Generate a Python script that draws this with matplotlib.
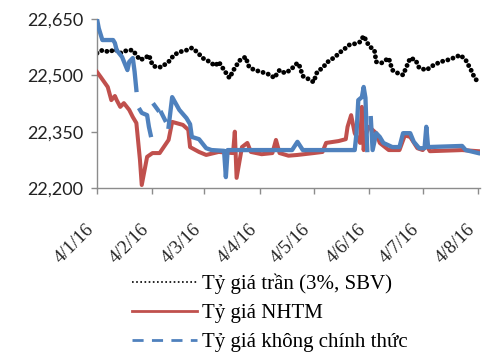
import matplotlib
matplotlib.use("Agg")
import matplotlib.pyplot as plt
from matplotlib.lines import Line2D
import matplotlib.transforms as mtransforms
import numpy as np
import pandas as pd

# Tỷ giá trần (3%, SBV)
tran_ngay = ["2016-01-04", "2016-01-07", "2016-01-11", "2016-01-14", "2016-01-17", "2016-01-21",
             "2016-01-24", "2016-01-26", "2016-01-28", "2016-01-31", "2016-02-02", "2016-02-04",
             "2016-02-06", "2016-02-09", "2016-02-13", "2016-02-16", "2016-02-19", "2016-02-23",
             "2016-02-26", "2016-02-29", "2016-03-03", "2016-03-07", "2016-03-10", "2016-03-12",
             "2016-03-15", "2016-03-18", "2016-03-21", "2016-03-24", "2016-03-27", "2016-03-29",
             "2016-04-01", "2016-04-05", "2016-04-10", "2016-04-12", "2016-04-15", "2016-04-18",
             "2016-04-21", "2016-04-25", "2016-04-26", "2016-04-28", "2016-05-02", "2016-05-04",
             "2016-05-06", "2016-05-09", "2016-05-12", "2016-05-16", "2016-05-19", "2016-05-22",
             "2016-05-24", "2016-05-27", "2016-05-30", "2016-06-01", "2016-06-04", "2016-06-07",
             "2016-06-08", "2016-06-11", "2016-06-15", "2016-06-17", "2016-06-20", "2016-06-23",
             "2016-06-27", "2016-06-30", "2016-07-02", "2016-07-06", "2016-07-10", "2016-07-14",
             "2016-07-18", "2016-07-21", "2016-07-25", "2016-07-28", "2016-07-31", "2016-08-02",
             "2016-08-04"]
tran_gia = [22559, 22567, 22562, 22570, 22559, 22567,
            22567, 22554, 22541, 22546, 22554, 22527,
            22522, 22522, 22536, 22554, 22562, 22567,
            22573, 22562, 22546, 22536, 22525, 22536,
            22514, 22493, 22520, 22541, 22549, 22522,
            22514, 22509, 22501, 22493, 22514, 22506,
            22514, 22533, 22527, 22498, 22488, 22482,
            22509, 22520, 22536, 22549, 22562, 22573,
            22581, 22584, 22589, 22605, 22578, 22567,
            22536, 22533, 22546, 22514, 22506, 22501,
            22546, 22541, 22520, 22514, 22527, 22536,
            22541, 22546, 22554, 22541, 22514, 22493,
            22482]

# Tỷ giá NHTM
nhtm_ngay = ["2016-01-04", "2016-01-06", "2016-01-10", "2016-01-12", "2016-01-14", "2016-01-15",
             "2016-01-17", "2016-01-19", "2016-01-22", "2016-01-24", "2016-01-26", "2016-01-28",
             "2016-01-29", "2016-02-01", "2016-02-04", "2016-02-08", "2016-02-13", "2016-02-15",
             "2016-02-21", "2016-02-24", "2016-02-25", "2016-03-01", "2016-03-05", "2016-03-12",
             "2016-03-20", "2016-03-21", "2016-03-22", "2016-03-25", "2016-03-28", "2016-03-30",
             "2016-04-05", "2016-04-11", "2016-04-13", "2016-04-15", "2016-04-20", "2016-04-25",
             "2016-05-04", "2016-05-09", "2016-05-11", "2016-05-18", "2016-05-22", "2016-05-23",
             "2016-05-25", "2016-05-27", "2016-05-30", "2016-05-31", "2016-06-01", "2016-06-02",
             "2016-06-04", "2016-06-08", "2016-06-10", "2016-06-15", "2016-06-21", "2016-06-24",
             "2016-06-27", "2016-07-01", "2016-07-04", "2016-07-06", "2016-07-08", "2016-07-26",
             "2016-08-04"]
nhtm_gia = [22509, 22496, 22469, 22434, 22445, 22434,
            22416, 22426, 22408, 22389, 22373, 22275,
            22208, 22283, 22293, 22293, 22328, 22376,
            22368, 22355, 22309, 22296, 22288, 22296,
            22293, 22350, 22227, 22309, 22320, 22296,
            22290, 22293, 22328, 22293, 22286, 22288,
            22293, 22296, 22320, 22325, 22330, 22363,
            22394, 22346, 22320, 22416, 22301, 22340,
            22363, 22346, 22320, 22301, 22301, 22340,
            22336, 22306, 22301, 22314, 22298, 22301,
            22298]

# Tỷ giá không chính thức (NaN = không có số liệu)
ktc_ngay = ["2016-01-04", "2016-01-05", "2016-01-07", "2016-01-13", "2016-01-14", "2016-01-15",
            "2016-01-18", "2016-01-21", "2016-01-22", "2016-01-24", "2016-01-25", "2016-01-26",
            "2016-01-27",
            "2016-01-28", "2016-01-29", "2016-02-01", "2016-02-02", "2016-02-03",
            "2016-02-04",
            "2016-02-05", "2016-02-07",
            "2016-02-08",
            "2016-02-09", "2016-02-11",
            "2016-02-12",
            "2016-02-13", "2016-02-15", "2016-02-19", "2016-02-23", "2016-02-25", "2016-02-26",
            "2016-03-01", "2016-03-05", "2016-03-08", "2016-03-15", "2016-03-16", "2016-03-17",
            "2016-04-22", "2016-04-25", "2016-04-28", "2016-05-27", "2016-05-28", "2016-05-29",
            "2016-05-31", "2016-06-01", "2016-06-02", "2016-06-03",
            "2016-06-04",
            "2016-06-05", "2016-06-06", "2016-06-08", "2016-06-10", "2016-06-12", "2016-06-17",
            "2016-06-21", "2016-06-23", "2016-06-27", "2016-06-29", "2016-07-02", "2016-07-05",
            "2016-07-06", "2016-07-07", "2016-07-26", "2016-07-28", "2016-08-04"]
ktc_gia = [22650, 22625, 22594, 22594, 22586, 22567,
           22549, 22514, 22536, 22546, 22510, 22461,
           np.nan,
           22408, 22400, 22394, 22363, 22341,
           np.nan,
           22421, 22408,
           np.nan,
           22400, 22381,
           np.nan,
           22363, 22442, 22408, 22386, 22370, 22336,
           22330, 22306, 22301, 22299, 22229, 22301,
           22301, 22323, 22301, 22301, 22346, 22434,
           22442, 22469, 22440, 22301,
           np.nan,
           22386, 22301, 22346, 22336, 22320, 22309,
           22309, 22346, 22346, 22323, 22306, 22306,
           22363, 22309, 22312, 22301, 22293]

ten_duong = ["Tỷ giá trần (3%, SBV)", "Tỷ giá NHTM", "Tỷ giá không chính thức"]
y_ticks = [22200, 22350, 22500, 22650]
x_ticks = ["2016-01-04", "2016-02-04", "2016-03-04", "2016-04-04",
           "2016-05-04", "2016-06-04", "2016-07-04", "2016-08-04"]

mau_den = "#000000"
mau_do = "#C0504D"
mau_xanh = "#4F81BD"
mau_truc = "#8C8C8C"

fig = plt.figure(figsize=(5, 3.6), dpi=100)
ax = fig.add_axes([97 / 500, 1 - 188 / 360, 383 / 500, 169 / 360])

ax.plot(pd.to_datetime(tran_ngay), tran_gia, color=mau_den, lw=3.5,
        linestyle=(0, (0.01, 1.1)), dash_capstyle="round", zorder=2)
ax.plot(pd.to_datetime(nhtm_ngay), nhtm_gia, color=mau_do, lw=2.9,
        solid_joinstyle="round", zorder=3)
ax.plot(pd.to_datetime(ktc_ngay), ktc_gia, color=mau_xanh, lw=3.1,
        solid_joinstyle="round", zorder=4)

ax.set_ylim(22200, 22650)
ax.set_xlim(pd.Timestamp("2016-01-04"), pd.Timestamp("2016-08-05"))
ax.set_yticks(y_ticks)
ax.set_yticklabels([f"{v:,}" for v in y_ticks], fontfamily="Lato", fontsize=13, color="#222222")
ax.set_xticks(pd.to_datetime(x_ticks))
ax.set_xticklabels([f"{d.day}/{d.month}/{d.strftime('%y')}" for d in pd.to_datetime(x_ticks)],
                   fontfamily="Liberation Serif", fontsize=13.5, color="#222222",
                   rotation=45, ha="right", va="top")
dich = mtransforms.ScaledTranslation(5 / 100, 0, fig.dpi_scale_trans)
for nhan in ax.get_xticklabels():
    nhan.set_transform(nhan.get_transform() + dich)

for s in ["top", "right"]:
    ax.spines[s].set_visible(False)
for s in ["left", "bottom"]:
    ax.spines[s].set_color(mau_truc)
    ax.spines[s].set_linewidth(1.0)
ax.tick_params(axis="both", color=mau_truc, length=4, width=1.0)
ax.tick_params(axis="x", pad=20)
ax.tick_params(axis="y", pad=6)

handles = [
    Line2D([], [], color=mau_den, lw=1.2, linestyle=(0, (1, 1.5))),
    Line2D([], [], color=mau_do, lw=2.0),
    Line2D([], [], color=mau_xanh, lw=2.0, linestyle=(0, (4, 3))),
]
fig.legend(handles, ten_duong, loc="upper left", bbox_to_anchor=(132 / 500, 1 - 274 / 360),
           frameon=False, borderpad=0, borderaxespad=0, handlelength=3.1, handletextpad=0.25,
           labelspacing=0.45, prop={"family": "Liberation Serif", "size": 15})

fig.savefig("out.png", dpi=100)
